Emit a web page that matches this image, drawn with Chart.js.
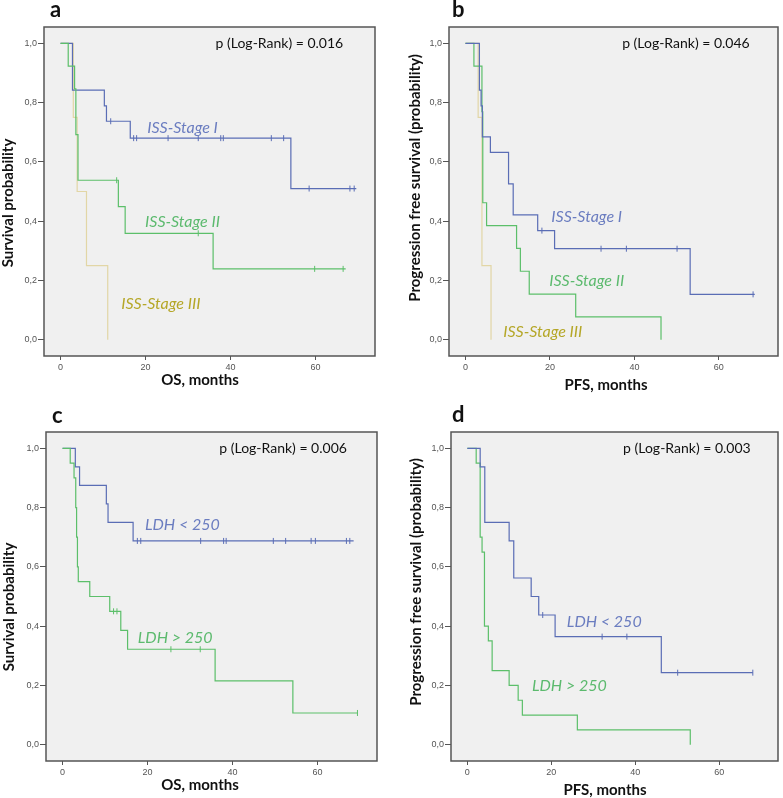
<!DOCTYPE html>
<html>
<head>
<meta charset="utf-8">
<script src="https://cdn.jsdelivr.net/npm/chart.js@4.4.1/dist/chart.umd.min.js"></script>
<style>
  html, body { margin: 0; padding: 0; background: #ffffff; }
  body { width: 783px; height: 798px; position: relative; overflow: hidden; }
  canvas { position: absolute; }
</style>
</head>
<body>
<canvas id="ca" width="390" height="398" style="left:0px;top:0px"></canvas>
<canvas id="cb" width="393" height="398" style="left:390px;top:0px"></canvas>
<canvas id="cc" width="390" height="398" style="left:0px;top:400px"></canvas>
<canvas id="cd" width="393" height="398" style="left:390px;top:400px"></canvas>
<script>
// ---------- tick labels ----------
const xTicks = [0, 20, 40, 60];
const yTicks = [0, 0.2, 0.4, 0.6, 0.8, 1.0];

// ---------- Panel a: OS by ISS stage ----------
const aStage1Times = [2.8, 10.3, 10.8, 16.4, 54.2];
const aStage1Surv  = [0.842, 0.789, 0.737, 0.680, 0.510];
const aStage1End   = 69.6;
const aStage1Cens  = [11.8, 17.2, 17.9, 25.3, 32.4, 37.7, 38.3, 49.6, 52.5, 58.5, 68.1, 69.1];

const aStage2Times = [1.8, 3.3, 3.6, 4.1, 13.6, 15.2, 35.9];
const aStage2Surv  = [0.923, 0.846, 0.692, 0.538, 0.449, 0.359, 0.239];
const aStage2End   = 67.1;
const aStage2Cens  = [13.2, 32.4, 59.8, 66.5];

const aStage3Times = [3.0, 3.9, 6.1, 11.1];
const aStage3Surv  = [0.75, 0.5, 0.25, 0.0];

// ---------- Panel b: PFS by ISS stage ----------
const bStage1Times = [3.3, 3.7, 4.0, 5.9, 10.2, 11.3, 17.1, 21.1, 53.2];
const bStage1Surv  = [0.842, 0.789, 0.684, 0.632, 0.526, 0.421, 0.368, 0.307, 0.153];
const bStage1End   = 68.5;
const bStage1Cens  = [18.1, 32.1, 38.1, 50.1, 68.1];

const bStage2Times = [2.0, 3.9, 4.1, 5.0, 12.1, 13.0, 15.1, 26.1, 46.3];
const bStage2Surv  = [0.923, 0.769, 0.462, 0.385, 0.308, 0.231, 0.154, 0.077, 0.0];

const bStage3Times = [3.0, 3.9, 6.05];
const bStage3Surv  = [0.75, 0.25, 0.0];

// ---------- Panel c: OS by LDH ----------
const cLowTimes  = [3.0, 4.0, 10.3, 10.7, 16.6];
const cLowSurv   = [0.9375, 0.875, 0.8125, 0.75, 0.6875];
const cLowEnd    = 68.5;
const cLowCens   = [17.6, 18.4, 32.5, 37.9, 38.5, 49.6, 52.5, 58.5, 59.5, 66.8, 67.6];

const cHighTimes = [1.8, 2.7, 3.1, 3.3, 3.5, 3.7, 6.4, 11.1, 13.7, 15.3, 35.9, 54.2];
const cHighSurv  = [0.95, 0.9, 0.8, 0.7, 0.6, 0.55, 0.5, 0.45, 0.386, 0.322, 0.215, 0.107];
const cHighEnd   = 69.4;
const cHighCens  = [12.0, 12.8, 25.5, 32.4, 69.4];

// ---------- Panel d: PFS by LDH ----------
const dLowTimes  = [3.05, 4.15, 9.95, 11.05, 15.2, 17.0, 20.9, 46.2];
const dLowSurv   = [0.9375, 0.75, 0.6875, 0.5625, 0.5, 0.4375, 0.3646, 0.243];
const dLowEnd    = 68.0;
const dLowCens   = [17.95, 32.1, 38.0, 50.1, 68.0];

const dHighTimes = [2.1, 3.05, 3.5, 4.07, 5.0, 5.9, 9.95, 12.1, 13.1, 26.2, 53.1];
const dHighSurv  = [0.95, 0.70, 0.65, 0.40, 0.35, 0.25, 0.20, 0.15, 0.10, 0.05, 0.0];

// ---------- texts ----------
const pTexts = ['p (Log-Rank) = 0.016', 'p (Log-Rank) = 0.046', 'p (Log-Rank) = 0.006', 'p (Log-Rank) = 0.003'];
const panelLetters = ['a', 'b', 'c', 'd'];

// ---------- colours ----------
const BLUE = '#5a6db5', GREEN = '#5cbf6a', BEIGE = '#e2d6a6';
const BLUE_T = '#6b7dc0', GREEN_T = '#5cba6e', OLIVE_T = '#b5a728';
const FONT = 'Lato, "Open Sans", sans-serif';

function kmPoints(times, surv, end) {
  const pts = [{x: 0, y: 1}];
  for (let i = 0; i < times.length; i++) pts.push({x: times[i], y: surv[i]});
  if (end !== undefined) pts.push({x: end, y: surv[surv.length - 1]});
  return pts;
}
function survAt(times, surv, t) {
  let s = 1;
  for (let i = 0; i < times.length; i++) if (times[i] <= t) s = surv[i];
  return s;
}
function censPoints(times, surv, cens) {
  return (cens || []).map(t => ({x: t, y: survAt(times, surv, t)}));
}
function series(times, surv, end, cens, color) {
  const ds = [{
    type: 'line', data: kmPoints(times, surv, end), stepped: 'before',
    borderColor: color, borderWidth: 1.2, pointRadius: 0, fill: false
  }];
  if (cens && cens.length) ds.push({
    type: 'scatter', data: censPoints(times, surv, cens), pointStyle: 'line',
    rotation: 90, pointRadius: 3, borderColor: color, borderWidth: 1, showLine: false
  });
  return ds;
}

const panels = [
  { canvas: 'ca', W: 390, H: 398, area: {l: 44, t: 27, r: 375, b: 356},
    letter: {x: 50, y: 17}, yTitle: 'Survival probability', yT: {x: 8, y: 203, w: 131},
    xTitle: 'OS, months', xT: {x: 200, y: 380, w: 78}, p: pTexts[0], pPos: {x: 51.5, y: 1.0},
    datasets: [
      ...series(aStage2Times, aStage2Surv, aStage2End, aStage2Cens, GREEN),
      ...series(aStage1Times, aStage1Surv, aStage1End, aStage1Cens, BLUE),
      ...series(aStage3Times, aStage3Surv, undefined, [], BEIGE)
    ],
    labels: [
      {text: 'ISS-Stage I', x: 28.7, y: 0.715, color: BLUE_T},
      {text: 'ISS-Stage II', x: 28.7, y: 0.397, color: GREEN_T},
      {text: 'ISS-Stage III', x: 23.6, y: 0.12, color: OLIVE_T}
    ] },
  { canvas: 'cb', W: 393, H: 398, area: {l: 59, t: 27, r: 391, b: 356},
    letter: {x: 62, y: 17}, yTitle: 'Progression free survival (probability)', yT: {x: 25, y: 178, w: 252},
    xTitle: 'PFS, months', xT: {x: 216, y: 385, w: 83}, p: pTexts[1], pPos: {x: 52.2, y: 1.0},
    datasets: [
      ...series(bStage1Times, bStage1Surv, bStage1End, bStage1Cens, BLUE),
      ...series(bStage2Times, bStage2Surv, undefined, [], GREEN),
      ...series(bStage3Times, bStage3Surv, undefined, [], BEIGE)
    ],
    labels: [
      {text: 'ISS-Stage I', x: 28.7, y: 0.416, color: BLUE_T},
      {text: 'ISS-Stage II', x: 28.7, y: 0.199, color: GREEN_T},
      {text: 'ISS-Stage III', x: 18.3, y: 0.028, color: OLIVE_T}
    ] },
  { canvas: 'cc', W: 390, H: 398, area: {l: 46, t: 32, r: 377, b: 361},
    letter: {x: 52, y: 23}, yTitle: 'Survival probability', yT: {x: 9, y: 207, w: 131},
    xTitle: 'OS, months', xT: {x: 200, y: 385, w: 78}, p: pTexts[2], pPos: {x: 51.9, y: 1.0},
    datasets: [
      ...series(cHighTimes, cHighSurv, cHighEnd, cHighCens, GREEN),
      ...series(cLowTimes, cLowSurv, cLowEnd, cLowCens, BLUE)
    ],
    labels: [
      {text: 'LDH < 250', x: 28.2, y: 0.741, color: BLUE_T},
      {text: 'LDH > 250', x: 26.5, y: 0.36, color: GREEN_T}
    ] },
  { canvas: 'cd', W: 393, H: 398, area: {l: 61, t: 32, r: 392, b: 361},
    letter: {x: 62, y: 22}, yTitle: 'Progression free survival (probability)', yT: {x: 26, y: 182, w: 252},
    xTitle: 'PFS, months', xT: {x: 215, y: 390, w: 84}, p: pTexts[3], pPos: {x: 52.3, y: 1.0},
    datasets: [
      ...series(dLowTimes, dLowSurv, dLowEnd, dLowCens, BLUE),
      ...series(dHighTimes, dHighSurv, undefined, [], GREEN)
    ],
    labels: [
      {text: 'LDH < 250', x: 32.6, y: 0.416, color: BLUE_T},
      {text: 'LDH > 250', x: 24.3, y: 0.2, color: GREEN_T}
    ] }
];

panels.forEach((P, idx) => {
  const deco = {
    id: 'deco' + idx,
    beforeDraw(chart) {
      const a = chart.chartArea, ctx = chart.ctx;
      ctx.save();
      ctx.fillStyle = '#f0f0f0';
      ctx.fillRect(a.left, a.top, a.right - a.left, a.bottom - a.top);
      ctx.restore();
    },
    afterDraw(chart) {
      const a = chart.chartArea, ctx = chart.ctx;
      const xs = chart.scales.x, ys = chart.scales.y;
      ctx.save();
      ctx.strokeStyle = '#555';
      ctx.lineWidth = 1.5;
      ctx.strokeRect(a.left, a.top, a.right - a.left, a.bottom - a.top);
      // panel letter
      ctx.fillStyle = '#111';
      ctx.font = 'bold 22px ' + FONT;
      ctx.textAlign = 'left'; ctx.textBaseline = 'alphabetic';
      ctx.fillText(panelLetters[idx], P.letter.x, P.letter.y);
      // p-value
      ctx.font = '14px ' + FONT;
      ctx.textAlign = 'center'; ctx.textBaseline = 'middle';
      ctx.fillStyle = '#111';
      ctx.fillText(P.p, xs.getPixelForValue(P.pPos.x), ys.getPixelForValue(P.pPos.y));
      // curve labels
      ctx.font = 'italic 16px ' + FONT;
      P.labels.forEach(L => {
        ctx.fillStyle = L.color;
        ctx.fillText(L.text, xs.getPixelForValue(L.x), ys.getPixelForValue(L.y));
      });
      // axis titles
      ctx.fillStyle = '#111';
      ctx.font = 'bold 15px ' + FONT;
      ctx.fillText(P.xTitle, P.xT.x, P.xT.y, P.xT.w);
      ctx.translate(P.yT.x, P.yT.y);
      ctx.rotate(-Math.PI / 2);
      ctx.fillText(P.yTitle, 0, 0, P.yT.w);
      ctx.restore();
    }
  };
  new Chart(document.getElementById(P.canvas), {
    data: { datasets: P.datasets },
    options: {
      responsive: false, animation: false, devicePixelRatio: 1,
      layout: { padding: { left: 0, top: P.area.t, right: P.W - P.area.r, bottom: 0 } },
      plugins: { legend: { display: false }, tooltip: { enabled: false }, title: { display: false } },
      scales: {
        x: {
          type: 'linear', min: -3.9, max: 74,
          afterBuildTicks: s => { s.ticks = xTicks.map(v => ({value: v})); },
          afterFit: s => { s.height = P.H - P.area.b; },
          ticks: { font: { family: '"Liberation Sans", Arial, sans-serif', size: 9 }, color: '#555',
                   padding: 2, maxRotation: 0, autoSkip: false },
          grid: { drawOnChartArea: false, drawTicks: true, tickLength: 4, color: '#555' },
          border: { display: false }
        },
        y: {
          type: 'linear', min: -0.055, max: 1.055,
          afterBuildTicks: s => { s.ticks = yTicks.map(v => ({value: v})); },
          afterFit: s => { s.width = P.area.l; },
          ticks: { font: { family: '"Liberation Sans", Arial, sans-serif', size: 9 }, color: '#555',
                   padding: 1, autoSkip: false,
                   callback: v => Number(v).toFixed(1).replace('.', ',') },
          grid: { drawOnChartArea: false, drawTicks: true, tickLength: 6, color: '#555' },
          border: { display: false }
        }
      }
    },
    plugins: [deco]
  });
});
</script>
</body>
</html>
